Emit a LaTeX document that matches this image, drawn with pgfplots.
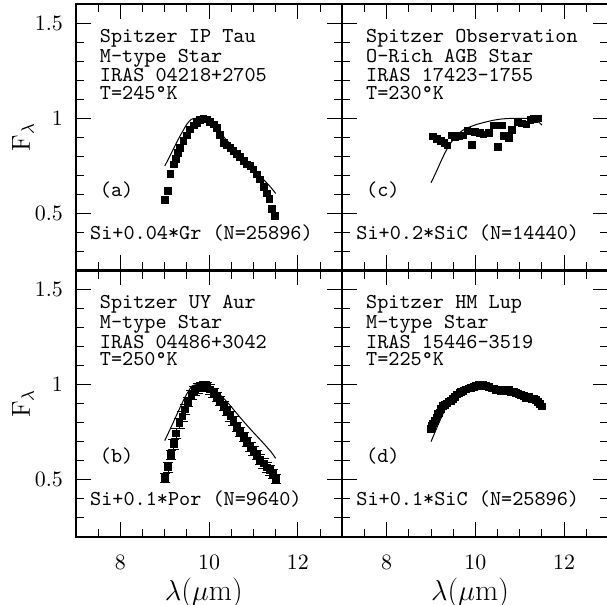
\documentclass[border=0pt]{standalone}
\usepackage{fontspec}
\usepackage{pgfplots}
\pgfplotsset{compat=1.18}
\usepackage{pgfplotstable}

\newcommand\anno{\fontsize{10.6}{11}\selectfont\ttfamily}

% ---- spectra: observed points (x = wavelength in micron, y = normalised flux)
\pgfplotstableread{
x y
9.00 0.570
9.07 0.620
9.13 0.710
9.20 0.758
9.25 0.788
9.30 0.819
9.35 0.846
9.42 0.880
9.50 0.910
9.57 0.942
9.65 0.963
9.72 0.977
9.80 0.991
9.87 1.000
9.95 0.995
10.02 0.980
10.10 0.968
10.17 0.951
10.25 0.912
10.33 0.872
10.40 0.858
10.48 0.846
10.55 0.828
10.63 0.814
10.70 0.798
10.78 0.775
10.85 0.758
10.93 0.749
11.00 0.732
11.08 0.705
11.15 0.679
11.23 0.640
11.30 0.605
11.36 0.577
11.42 0.525
11.49 0.486
}\obsA

\pgfplotstableread{
x y
9.00 0.749
9.10 0.795
9.20 0.842
9.30 0.888
9.40 0.930
9.50 0.970
9.60 0.995
9.70 1.000
9.85 0.998
10.00 0.975
10.20 0.935
10.40 0.885
10.60 0.835
10.80 0.785
11.00 0.735
11.20 0.685
11.40 0.635
11.50 0.605
}\modA

\pgfplotstableread{
x y e
9.01 0.510 0.025
9.08 0.565 0.025
9.14 0.629 0.025
9.20 0.686 0.025
9.26 0.743 0.025
9.33 0.797 0.025
9.40 0.833 0.025
9.46 0.869 0.025
9.52 0.909 0.025
9.60 0.945 0.025
9.67 0.967 0.025
9.75 0.980 0.025
9.82 0.988 0.025
9.90 0.992 0.025
9.95 0.988 0.025
10.02 0.975 0.025
10.10 0.957 0.025
10.18 0.936 0.025
10.25 0.915 0.025
10.33 0.887 0.025
10.40 0.862 0.025
10.48 0.834 0.025
10.55 0.810 0.025
10.63 0.778 0.025
10.70 0.752 0.025
10.78 0.725 0.025
10.85 0.699 0.025
10.93 0.673 0.025
11.00 0.652 0.025
11.08 0.629 0.025
11.15 0.606 0.025
11.23 0.585 0.025
11.30 0.564 0.025
11.37 0.550 0.025
11.44 0.530 0.025
11.51 0.505 0.025
}\obsB

\pgfplotstableread{
x y
9.00 0.705
9.20 0.805
9.35 0.882
9.50 0.952
9.62 0.993
9.75 1.000
9.90 0.998
10.00 0.988
10.20 0.955
10.40 0.910
10.60 0.855
10.80 0.800
11.00 0.748
11.20 0.698
11.40 0.645
11.50 0.612
}\modB

\pgfplotstableread{
x y
9.04 0.905
9.13 0.893
9.22 0.881
9.30 0.872
9.37 0.858
9.47 0.911
9.54 0.904
9.64 0.907
9.73 0.911
9.82 0.933
9.93 0.862
9.99 0.928
10.11 0.925
10.18 0.916
10.30 0.925
10.41 0.963
10.51 0.851
10.59 0.963
10.64 0.907
10.75 0.898
10.82 0.938
10.96 0.982
11.05 0.974
11.15 0.968
11.24 0.991
11.31 0.998
11.42 1.000
}\obsC

\pgfplotstableread{
x y
9.00 0.662
9.10 0.710
9.20 0.762
9.30 0.812
9.40 0.855
9.50 0.888
9.60 0.915
9.70 0.935
9.80 0.948
10.00 0.966
10.20 0.979
10.40 0.990
10.60 0.997
10.80 1.000
11.00 1.000
11.20 1.000
11.35 0.994
11.50 0.965
}\modC

\pgfplotstableread{
x y
8.99 0.766
9.02 0.782
9.04 0.796
9.08 0.808
9.12 0.827
9.15 0.845
9.19 0.852
9.23 0.872
9.27 0.887
9.31 0.892
9.36 0.901
9.40 0.912
9.45 0.915
9.50 0.925
9.54 0.936
9.59 0.948
9.64 0.957
9.68 0.960
9.73 0.967
9.79 0.975
9.84 0.980
9.90 0.982
9.96 0.988
10.02 0.992
10.07 0.997
10.12 0.994
10.18 1.000
10.24 0.992
10.30 0.988
10.36 0.980
10.41 0.980
10.47 0.972
10.52 0.975
10.58 0.965
10.63 0.967
10.69 0.972
10.75 0.971
10.80 0.962
10.86 0.962
10.92 0.955
10.97 0.950
11.03 0.944
11.09 0.940
11.14 0.932
11.20 0.936
11.26 0.925
11.31 0.927
11.36 0.918
11.40 0.909
11.45 0.898
11.50 0.885
}\obsD

\pgfplotstableread{
x y
9.00 0.700
9.20 0.810
9.40 0.910
9.55 0.960
9.70 0.980
9.90 0.992
10.10 1.000
10.30 0.995
10.50 0.985
10.70 0.970
10.90 0.955
11.10 0.935
11.30 0.915
11.50 0.875
}\modD

\pgfplotsset{
  panel/.style={
    scale only axis, width=133.1pt, height=133.1pt,
    anchor=south west, clip=false,
    xmin=7, xmax=13, ymin=0.2, ymax=1.6,
    xtick={8,10,12}, ytick={0.5,1,1.5},
    minor xtick={7.5,8.5,9,9.5,10.5,11,11.5,12.5},
    minor ytick={0.3,0.4,0.6,0.7,0.8,0.9,1.1,1.2,1.3,1.4},
    tick align=inside, tick pos=both,
    major tick length=7.5pt, minor tick length=4pt,
    axis line style={line width=1pt},
    every tick/.style={black, line width=0.5pt},
    tick label style={font=\fontsize{10.5}{12}\selectfont},
    yticklabel style={xshift=-3pt},
    xticklabel style={yshift=-6pt},
  },
  obs/.style={only marks, mark=square*, mark size=1.7pt, black},
  model/.style={no marks, black, line width=0.5pt, smooth, tension=0.5},
}

\newcommand\ylab{\node[rotate=90, font=\fontsize{13}{15}\selectfont]
  at (axis description cs:-0.199,0.5) {F$_\lambda$};}
\newcommand\xlab{\node[font=\fontsize{15}{17}\selectfont]
  at (axis description cs:0.48,-0.212) {$\lambda$($\mu$m)};}
\newcommand\info[4]{%
  \node[anchor=base west, inner sep=0pt, font=\anno] at (axis cs:7.53,1.398) {#1};
  \node[anchor=base west, inner sep=0pt, font=\anno] at (axis cs:7.53,1.294) {#2};
  \node[anchor=base west, inner sep=0pt, font=\anno] at (axis cs:7.53,1.192) {#3};
  \node[anchor=base west, inner sep=0pt, font=\anno] at (axis cs:7.53,1.098) {#4};}
\newcommand\paneltag[2]{%
  \node[anchor=base west, inner sep=0pt, font=\anno] at (axis cs:7.53,0.588) {#1};
  \node[anchor=base west, inner sep=0pt, font=\anno] at (axis cs:7.31,0.362) {#2};}

\begin{document}
\begin{tikzpicture}
\path[use as bounding box] (0pt,0pt) rectangle (303.5pt,-302.5pt);

% (a) top left
\begin{axis}[panel, at={(38pt,-135.25pt)}, xticklabels={}]
  \addplot[obs] table {\obsA};
  \addplot[model] table {\modA};
  \info{Spitzer IP Tau}{M-type Star}{IRAS 04218+2705}{T=245°K}
  \paneltag{(a)}{Si+0.04*Gr (N=25896)}
  \ylab
\end{axis}

% (c) top right
\begin{axis}[panel, at={(171.15pt,-135.25pt)}, xticklabels={}, yticklabels={}]
  \addplot[obs] table {\obsC};
  \addplot[model] table {\modC};
  \info{Spitzer Observation}{O-Rich AGB Star}{IRAS 17423-1755}{T=230°K}
  \paneltag{(c)}{Si+0.2*SiC (N=14440)}
\end{axis}

% (b) bottom left
\begin{axis}[panel, at={(38pt,-268.35pt)}]
  \addplot[obs, error bars/.cd, y dir=both, y explicit,
    error bar style={black, line width=0.4pt},
    error mark options={rotate=90, mark size=2.6pt, line width=0.4pt, black}]
    table[y error=e] {\obsB};
  \addplot[model] table {\modB};
  \info{Spitzer UY Aur}{M-type Star}{IRAS 04486+3042}{T=250°K}
  \paneltag{(b)}{Si+0.1*Por (N=9640)}
  \ylab
  \xlab
\end{axis}

% (d) bottom right
\begin{axis}[panel, at={(171.15pt,-268.35pt)}, yticklabels={}]
  \addplot[obs] table {\obsD};
  \addplot[model] table {\modD};
  \info{Spitzer HM Lup}{M-type Star}{IRAS 15446-3519}{T=225°K}
  \paneltag{(d)}{Si+0.1*SiC (N=25896)}
  \xlab
\end{axis}
\end{tikzpicture}
\end{document}
